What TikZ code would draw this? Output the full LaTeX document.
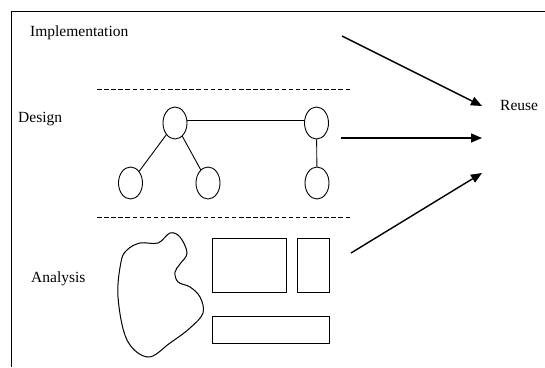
\documentclass[tikz,border=0pt]{standalone}
\usepackage{fontspec}
\setmainfont{Liberation Serif}
\usetikzlibrary{arrows.meta,shapes.geometric}
\begin{document}
\begin{tikzpicture}[x=1pt,y=-1pt,
  lbl/.style={anchor=base west,inner sep=0pt,font=\fontsize{15.5}{18}\selectfont},
  oval/.style={draw,ellipse,line width=0.9pt,minimum width=24pt,minimum height=32pt,inner sep=0pt},
  box/.style={draw,rectangle,line width=1pt,inner sep=0pt,anchor=north west},
  sep/.style={dashed,dash pattern=on 4.5pt off 2.6pt,line width=0.9pt},
  reusearrow/.style={line width=1.4pt,-{Triangle[length=11pt,width=9pt]}},
  link/.style={line width=0.9pt}]
\useasboundingbox (0,0) rectangle (545,367);
% frame
\draw[line width=1pt] (11,367) -- (11,11) -- (545,11);
% labels
\node[lbl] (impl) at (30,36) {Implementation};
\node[lbl] (design) at (18,122) {Design};
\node[lbl] (analysis) at (31,282) {Analysis};
\node[lbl] (reuse) at (500,110) {Reuse};
% separators
\coordinate (s1a) at (97,89);
\coordinate (s1b) at (351,89);
\coordinate (s2a) at (97,217);
\coordinate (s2b) at (351,217);
\draw[sep] (s1a) -- (s1b);
\draw[sep] (s2a) -- (s2b);
% design graph
\node[oval] (tl) at (175,123) {};
\node[oval] (tr) at (316.5,123) {};
\node[oval] (bl) at (130.5,183) {};
\node[oval] (bm) at (208,183) {};
\node[oval] (br) at (317,183) {};
\draw[link] ([yshift=3pt]tl.east) -- ([yshift=3pt]tr.west);
\draw[link] (tl) -- (bl);
\draw[link] (tl) -- (bm);
\draw[link] (tr) -- (br);
% analysis
\draw[line width=1pt] plot[smooth cycle,tension=0.6] coordinates {
  (170,233) (180,237) (187,253) (180,264) (175,272) (178,282) (190,287)
  (200,297) (203,313) (190,328) (170,343) (148,357) (127,340) (118,297)
  (121,262) (127,250) (140,243) (158,243)};
\node[box,minimum width=74pt,minimum height=54pt] (r1) at (212,238) {};
\node[box,minimum width=32pt,minimum height=54pt] (r2) at (297,238) {};
\node[box,minimum width=117pt,minimum height=27pt] (r3) at (212,316) {};
% arrows
\coordinate (a1s) at (342,36);
\coordinate (a1e) at (482,106);
\coordinate (a2s) at (341,138);
\coordinate (a2e) at (482,138);
\coordinate (a3s) at (351,253);
\coordinate (a3e) at (482,173);
\draw[reusearrow] (a1s) -- (a1e);
\draw[reusearrow] (a2s) -- (a2e);
\draw[reusearrow] (a3s) -- (a3e);
\end{tikzpicture}
\end{document}
